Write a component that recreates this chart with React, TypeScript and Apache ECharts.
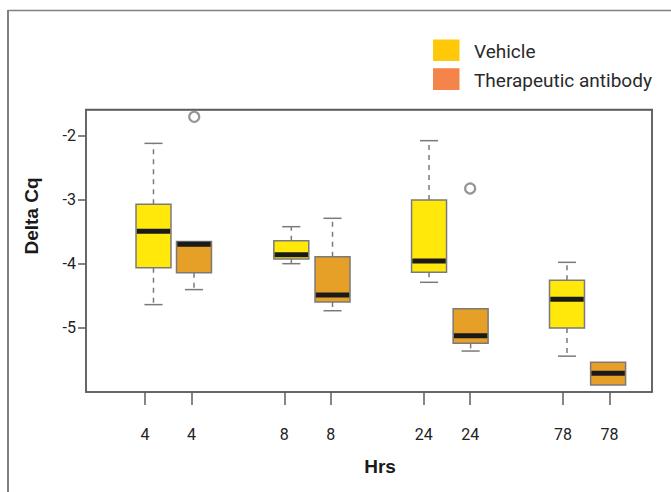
import React, { useEffect, useRef } from "react";
import * as echarts from "echarts";

// x tick positions and labels (hours)
const tickAt = [1, 2, 4, 5, 7, 8, 10, 11];
const hourLabels = ["4", "4", "8", "8", "24", "24", "78", "78"];
const yTicks = [-5, -4, -3, -2];

// Vehicle boxes
const vehicleAt = [1.183, 4.15, 7.115, 10.085];
const vehicleMin = [-4.635, -3.995, -4.286, -5.44];
const vehicleQ1 = [-4.06, -3.92, -4.13, -5.0];
const vehicleMedian = [-3.49, -3.854, -3.953, -4.552];
const vehicleQ3 = [-3.067, -3.635, -3.0, -4.255];
const vehicleMax = [-2.115, -3.417, -2.073, -3.974];

// Therapeutic antibody boxes
const antibodyAt = [2.055, 5.037, 8.01, 10.97];
const antibodyMin = [-4.4, -4.73, -5.36, -5.89];
const antibodyQ1 = [-4.135, -4.594, -5.24, -5.89];
const antibodyMedian = [-3.69, -4.484, -5.12, -5.708];
const antibodyQ3 = [-3.65, -3.885, -4.698, -5.536];
const antibodyMax = [-3.65, -3.286, -4.698, -5.536];

// outliers [x, value]
const antibodyOutliers = [
  [2.06, -1.7],
  [8.0, -2.82],
];

const FONT = "Roboto, 'Liberation Sans', sans-serif";
const BOLD_FONT = "'Liberation Sans', Arial, sans-serif";

function makeRender(fill: string) {
  return (params: any, api: any) => {
    const x = api.value(0);
    const mn = api.value(1);
    const q1 = api.value(2);
    const md = api.value(3);
    const q3 = api.value(4);
    const mx = api.value(5);
    const boxW = api.size([0.753, 0])[0];
    const capW = api.size([0.39, 0])[0];
    const [cx, yMin] = api.coord([x, mn]);
    const yQ1 = api.coord([x, q1])[1];
    const yMd = api.coord([x, md])[1];
    const yQ3 = api.coord([x, q3])[1];
    const yMax = api.coord([x, mx])[1];
    const gray = "#7a7a7a";
    const children: any[] = [];
    const whisker = { stroke: gray, lineWidth: 1.5, lineDash: [5, 5] };
    const cap = { stroke: gray, lineWidth: 1.5 };
    if (yMax < yQ3 - 0.5) {
      children.push({ type: "line", shape: { x1: cx, y1: yQ3, x2: cx, y2: yMax }, style: whisker });
      children.push({ type: "line", shape: { x1: cx - capW / 2, y1: yMax, x2: cx + capW / 2, y2: yMax }, style: cap });
    }
    if (yMin > yQ1 + 0.5) {
      children.push({ type: "line", shape: { x1: cx, y1: yQ1, x2: cx, y2: yMin }, style: whisker });
      children.push({ type: "line", shape: { x1: cx - capW / 2, y1: yMin, x2: cx + capW / 2, y2: yMin }, style: cap });
    }
    children.push({
      type: "rect",
      shape: { x: cx - boxW / 2, y: yQ3, width: boxW, height: yQ1 - yQ3 },
      style: { fill, stroke: gray, lineWidth: 1.5 },
    });
    children.push({
      type: "line",
      shape: { x1: cx - boxW / 2 + 0.8, y1: yMd, x2: cx + boxW / 2 - 0.8, y2: yMd },
      style: { stroke: "#1a1a1a", lineWidth: 5 },
    });
    return { type: "group", children };
  };
}

export default function App() {
  const ref = useRef<HTMLDivElement>(null);
  useEffect(() => {
    if (!ref.current) return;
    const chart = echarts.init(ref.current, null, { renderer: "svg" });
    const vehicleData = vehicleAt.map((x, i) => [x, vehicleMin[i], vehicleQ1[i], vehicleMedian[i], vehicleQ3[i], vehicleMax[i]]);
    const antibodyData = antibodyAt.map((x, i) => [x, antibodyMin[i], antibodyQ1[i], antibodyMedian[i], antibodyQ3[i], antibodyMax[i]]);
    const borderColor = "#5e5e5e";
    chart.setOption({
      animation: false,
      backgroundColor: "#ffffff",
      grid: {
        left: 86,
        top: 109.5,
        width: 566,
        height: 282.5,
        show: true,
        borderColor,
        borderWidth: 1.5,
        backgroundColor: "transparent",
      },
      xAxis: [
        {
          type: "value",
          min: -0.27,
          max: 11.915,
          axisLine: { show: true, onZero: false, lineStyle: { color: borderColor, width: 1.5 } },
          splitLine: { show: false },
          axisTick: {
            show: true,
            length: 13,
            customValues: tickAt,
            lineStyle: { color: borderColor, width: 1.5 },
          },
          axisLabel: {
            customValues: tickAt,
            margin: 34,
            color: "#222",
            fontSize: 16,
            fontFamily: FONT,
            formatter: (v: number) => {
              const i = tickAt.indexOf(v);
              return i >= 0 ? hourLabels[i] : "";
            },
          },
        },
        {
          type: "value",
          position: "top",
          min: -0.27,
          max: 11.915,
          axisLine: { show: true, onZero: false, lineStyle: { color: borderColor, width: 1.5 } },
          splitLine: { show: false },
          axisTick: { show: false },
          axisLabel: { show: false },
        },
      ],
      yAxis: [
        {
          type: "value",
          min: -6,
          max: -1.586,
          axisLine: { show: true, onZero: false, lineStyle: { color: borderColor, width: 1.5 } },
          splitLine: { show: false },
          axisTick: {
            show: true,
            length: 8,
            customValues: yTicks,
            lineStyle: { color: borderColor, width: 1.5 },
          },
          axisLabel: {
            customValues: yTicks,
            margin: 10,
            color: "#222",
            fontSize: 16,
            fontFamily: FONT,
            formatter: (v: number) => "-" + String(Math.abs(v)),
          },
        },
        {
          type: "value",
          position: "right",
          min: -6,
          max: -1.586,
          axisLine: { show: true, onZero: false, lineStyle: { color: borderColor, width: 1.5 } },
          splitLine: { show: false },
          axisTick: { show: false },
          axisLabel: { show: false },
        },
      ],
      graphic: [
        { type: "line", shape: { x1: 8, y1: 10.5, x2: 671, y2: 10.5 }, style: { stroke: "#808080", lineWidth: 1.5 } },
        { type: "line", shape: { x1: 8, y1: 10, x2: 8, y2: 492 }, style: { stroke: "#808080", lineWidth: 2 } },
        { type: "rect", shape: { x: 433, y: 39.5, width: 26.5, height: 21.5 }, style: { fill: "#FFC90A" } },
        { type: "rect", shape: { x: 433, y: 68.2, width: 26.5, height: 21.8 }, style: { fill: "#F5844A" } },
        {
          type: "text",
          x: 474,
          y: 51,
          style: { text: "Vehicle", fill: "#2a2a2a", font: `19px ${FONT}`, textVerticalAlign: "middle" },
        },
        {
          type: "text",
          x: 474,
          y: 80,
          style: { text: "Therapeutic antibody", fill: "#2a2a2a", font: `19px ${FONT}`, textVerticalAlign: "middle" },
        },
        {
          type: "text",
          x: 31,
          y: 216,
          rotation: Math.PI / 2,
          style: {
            text: "Delta Cq",
            fill: "#1a1a1a",
            font: `bold 19px ${BOLD_FONT}`,
            textAlign: "center",
            textVerticalAlign: "middle",
          },
        },
        {
          type: "text",
          x: 380,
          y: 466,
          style: {
            text: "Hrs",
            fill: "#1a1a1a",
            font: `bold 19px ${BOLD_FONT}`,
            textAlign: "center",
            textVerticalAlign: "middle",
          },
        },
      ],
      series: [
        {
          name: "Vehicle",
          type: "custom",
          renderItem: makeRender("#FFE80A"),
          encode: { x: 0, y: [1, 2, 3, 4, 5] },
          data: vehicleData,
        },
        {
          name: "Therapeutic antibody",
          type: "custom",
          renderItem: makeRender("#E69F27"),
          encode: { x: 0, y: [1, 2, 3, 4, 5] },
          data: antibodyData,
        },
        {
          name: "Outliers",
          type: "scatter",
          symbol: "circle",
          symbolSize: 10,
          itemStyle: { color: "#ffffff", borderColor: "#7a7a7a", borderWidth: 2.2 },
          data: antibodyOutliers,
        },
      ],
    });
    return () => chart.dispose();
  }, []);
  return (
    <div
      ref={ref}
      style={{ position: "fixed", left: 0, top: 0, width: 671, height: 492, background: "#fff" }}
    />
  );
}
